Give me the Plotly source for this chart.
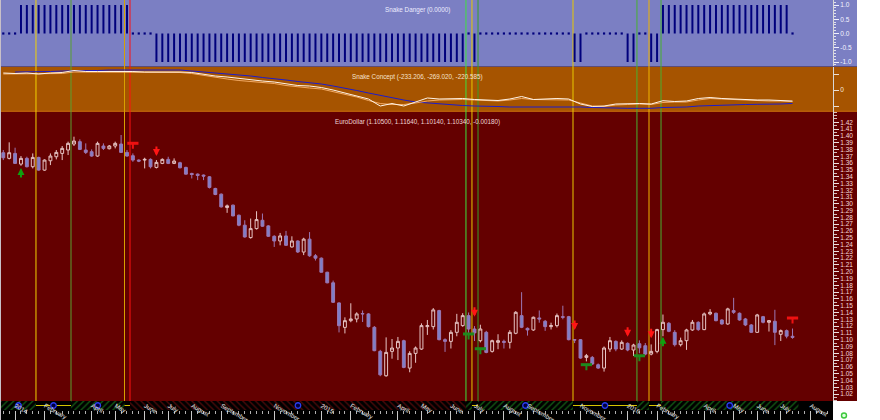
import pandas as pd
import plotly.graph_objects as go

# ============================ DATA ============================
first_week = "2013-12-20"
week_dates = pd.date_range(first_week, periods=135, freq="7D")

eur_open = [
    1.3752, 1.3669, 1.3742, 1.3585, 1.3669, 1.3546, 1.3683, 1.3496, 1.3634, 1.3693,
    1.3742, 1.3792, 1.3880, 1.3915, 1.3792, 1.3767, 1.3703, 1.3851, 1.3811, 1.3851,
    1.3880, 1.3757, 1.3708, 1.3644, 1.3644, 1.3654, 1.3536, 1.3595, 1.3654, 1.3595,
    1.3605, 1.3536, 1.3447, 1.3437, 1.3423, 1.3398, 1.3226, 1.3142, 1.2945, 1.2980,
    1.2832, 1.2685, 1.2503, 1.2635, 1.2758, 1.2675, 1.2522, 1.2453, 1.2527, 1.2365,
    1.2453, 1.2290, 1.2480, 1.2235, 1.2200, 1.1993, 1.1837, 1.1541, 1.1181, 1.1280,
    1.1305, 1.1385, 1.1379, 1.1182, 1.0828, 1.0469, 1.0828, 1.0877, 1.0985, 1.0582,
    1.0798, 1.0862, 1.1192, 1.1192, 1.1428, 1.1000, 1.0975, 1.1108, 1.1207, 1.1354,
    1.1157, 1.0985, 1.1108, 1.0828, 1.0961, 1.0975, 1.0961, 1.1094, 1.1354, 1.1167,
    1.1143, 1.1320, 1.1271, 1.1192, 1.1207, 1.1339, 1.1339, 1.1000, 1.1000, 1.0739,
    1.0739, 1.0631, 1.0582, 1.0862, 1.0975, 1.0862, 1.0946, 1.0848, 1.0940, 1.0911,
    1.0788, 1.0828, 1.1148, 1.1241, 1.1108, 1.0926, 1.0985, 1.1143, 1.1256, 1.1148,
    1.1379, 1.1389, 1.1290, 1.1231, 1.1428, 1.1389, 1.1305, 1.1217, 1.1108, 1.1339,
    1.1256, 1.1271, 1.1079, 1.1133, 1.1050]
eur_high = [
    1.3792, 1.3905, 1.3826, 1.3703, 1.3693, 1.3742, 1.3693, 1.3654, 1.3742, 1.3792,
    1.3851, 1.3915, 1.3988, 1.3949, 1.3890, 1.3801, 1.3915, 1.3890, 1.3865, 1.3915,
    1.4013, 1.3792, 1.3742, 1.3654, 1.3678, 1.3669, 1.3644, 1.3669, 1.3693, 1.3669,
    1.3619, 1.3546, 1.3457, 1.3447, 1.3432, 1.3408, 1.3236, 1.3152, 1.2990, 1.2990,
    1.2842, 1.2758, 1.2783, 1.2891, 1.2857, 1.2685, 1.2537, 1.2571, 1.2601, 1.2522,
    1.2463, 1.2500, 1.2584, 1.2260, 1.2210, 1.2000, 1.1870, 1.1550, 1.1329, 1.1536,
    1.1403, 1.1430, 1.1390, 1.1200, 1.0850, 1.1034, 1.1010, 1.1040, 1.1000, 1.0830,
    1.0900, 1.1240, 1.1290, 1.1465, 1.1440, 1.1020, 1.1140, 1.1380, 1.1390, 1.1400,
    1.1200, 1.1220, 1.1130, 1.1000, 1.1080, 1.1000, 1.1140, 1.1420, 1.1699, 1.1180,
    1.1340, 1.1430, 1.1290, 1.1250, 1.1385, 1.1500, 1.1350, 1.1010, 1.1010, 1.0790,
    1.0760, 1.0650, 1.0900, 1.1040, 1.0990, 1.0990, 1.0960, 1.0940, 1.0990, 1.0950,
    1.0930, 1.1160, 1.1370, 1.1260, 1.1140, 1.1030, 1.1160, 1.1290, 1.1270, 1.1400,
    1.1450, 1.1400, 1.1300, 1.1470, 1.1616, 1.1400, 1.1320, 1.1230, 1.1380, 1.1350,
    1.1290, 1.1440, 1.1150, 1.1150, 1.1164]
eur_low = [
    1.3644, 1.3654, 1.3595, 1.3560, 1.3536, 1.3521, 1.3487, 1.3487, 1.3570, 1.3654,
    1.3644, 1.3718, 1.3851, 1.3792, 1.3733, 1.3693, 1.3693, 1.3792, 1.3801, 1.3816,
    1.3752, 1.3693, 1.3619, 1.3614, 1.3521, 1.3521, 1.3521, 1.3585, 1.3585, 1.3585,
    1.3521, 1.3432, 1.3373, 1.3349, 1.3349, 1.3226, 1.3127, 1.2945, 1.2867, 1.2817,
    1.2670, 1.2503, 1.2488, 1.2621, 1.2660, 1.2512, 1.2365, 1.2389, 1.2380, 1.2355,
    1.2276, 1.2245, 1.2220, 1.2165, 1.1990, 1.1830, 1.1540, 1.1107, 1.1092, 1.1257,
    1.1255, 1.1260, 1.1180, 1.0830, 1.0462, 1.0455, 1.0720, 1.0700, 1.0580, 1.0520,
    1.0660, 1.0850, 1.1070, 1.1150, 1.0990, 1.0820, 1.0870, 1.1050, 1.1190, 1.1100,
    1.0980, 1.0960, 1.0800, 1.0810, 1.0860, 1.0870, 1.0870, 1.1080, 1.1170, 1.1060,
    1.1130, 1.1250, 1.1130, 1.1150, 1.1180, 1.1300, 1.0990, 1.0950, 1.0720, 1.0680,
    1.0630, 1.0570, 1.0530, 1.0820, 1.0830, 1.0850, 1.0830, 1.0760, 1.0800, 1.0770,
    1.0770, 1.0800, 1.1050, 1.1110, 1.0900, 1.0900, 1.0850, 1.1130, 1.1130, 1.1140,
    1.1360, 1.1270, 1.1220, 1.1220, 1.1380, 1.1280, 1.1200, 1.1100, 1.1100, 1.1240,
    1.1120, 1.0920, 1.0980, 1.1020, 1.1014]
eur_close = [
    1.3678, 1.3752, 1.3595, 1.3669, 1.3546, 1.3683, 1.3496, 1.3644, 1.3703, 1.3757,
    1.3816, 1.3890, 1.3924, 1.3801, 1.3757, 1.3703, 1.3890, 1.3816, 1.3851, 1.3890,
    1.3757, 1.3703, 1.3644, 1.3629, 1.3654, 1.3546, 1.3610, 1.3654, 1.3595, 1.3629,
    1.3531, 1.3437, 1.3432, 1.3418, 1.3408, 1.3241, 1.3137, 1.2955, 1.2970, 1.2822,
    1.2685, 1.2512, 1.2635, 1.2768, 1.2670, 1.2522, 1.2453, 1.2527, 1.2389, 1.2453,
    1.2291, 1.2480, 1.2235, 1.2200, 1.1993, 1.1837, 1.1550, 1.1206, 1.1280, 1.1305,
    1.1379, 1.1380, 1.1192, 1.0838, 1.0483, 1.0813, 1.0877, 1.0975, 1.0592, 1.0798,
    1.0877, 1.1207, 1.1207, 1.1438, 1.1000, 1.0975, 1.1108, 1.1256, 1.1354, 1.1157,
    1.1100, 1.1157, 1.0813, 1.0985, 1.0985, 1.0961, 1.1108, 1.1403, 1.1182, 1.1143,
    1.1330, 1.1305, 1.1192, 1.1207, 1.1354, 1.1330, 1.1000, 1.0995, 1.0729, 1.0764,
    1.0641, 1.0582, 1.0877, 1.0985, 1.0862, 1.0961, 1.0848, 1.0921, 1.0880, 1.0788,
    1.0828, 1.1148, 1.1256, 1.1123, 1.0926, 1.0985, 1.1143, 1.1256, 1.1148, 1.1379,
    1.1403, 1.1280, 1.1231, 1.1453, 1.1403, 1.1290, 1.1217, 1.1108, 1.1364, 1.1256,
    1.1280, 1.1108, 1.1133, 1.1052, 1.1034]

snake_danger = [
    0, 0, 0, 1, 1, 1, 1, 1, 1, 1,
    1, 1, 1, 1, 1, 1, 1, 1, 1, 1,
    1, 1, 0, 0, 0, 0, -1, -1, -1, -1,
    -1, -1, -1, -1, -1, -1, -1, -1, -1, -1,
    -1, -1, -1, -1, -1, -1, -1, -1, -1, -1,
    -1, -1, -1, -1, -1, -1, -1, -1, -1, -1,
    -1, -1, -1, -1, -1, -1, -1, -1, -1, -1,
    -1, -1, -1, -1, -1, -1, -1, -1, -1, 0,
    -1, 0, 0, 0, 0, 0, 0, 0, 0, 0,
    0, 0, 0, 0, 0, 0, 0, -1, -1, 0,
    0, 0, 0, 0, 0, 0, -1, -1, 0, 0,
    -1, -1, 1, 1, 1, 1, 1, 1, 1, 1,
    1, 1, 1, 1, 1, 1, 1, 1, 1, 1,
    1, 1, 1, 1, 0]

# Snake Concept lines, sampled every second week (index 0, 2, 4, ...)
concept_main = [
    320, 320, 330, 320, 330, 330, 360, 360, 360, 360,
    360, 360, 350, 350, 350, 350, 330, 290, 250, 220,
    190, 170, 150, 130, 90, 60, 40, 20, -30, -80,
    -140, -210, -270, -290, -290, -260, -220, -200, -190, -190,
    -200, -210, -220, -200, -170, -190, -190, -190, -200, -260,
    -320, -330, -300, -290, -280, -290, -250, -240, -240, -200,
    -170, -180, -190, -210, -220, -220, -220, -233.206]
concept_slow = [  # starts at week index 2
    360, 360, 370, 370, 380, 380, 390, 390, 400, 400,
    400, 400, 400, 400, 400, 380, 360, 350, 320, 300,
    280, 250, 230, 200, 170, 150, 120, 80, 40, -10,
    -60, -110, -160, -200, -240, -260, -280, -300, -310, -320,
    -320, -330, -340, -340, -340, -340, -330, -330, -340, -350,
    -360, -366, -366, -366, -366, -350, -346, -340, -320, -310,
    -306, -300, -290, -286, -286, -280, -269.020]
concept_fast = [
    340, 330, 340, 320, 340, 350, 390, 370, 370, 370,
    380, 370, 360, 360, 370, 360, 350, 310, 280, 260,
    230, 200, 180, 160, 120, 90, 80, 50, 0, -60,
    -120, -180, -320, -270, -320, -240, -160, -180, -180, -170,
    -190, -200, -210, -180, -130, -190, -180, -170, -180, -280,
    -330, -320, -280, -270, -270, -280, -214, -230, -220, -170,
    -150, -170, -180, -200, -200, -200, -210, -220.585]

# signals on the price panel (week index, price)
up_arrow_week = [3, 112]
up_arrow_price = [1.3527, 1.1044]
down_arrow_week = [26, 80, 97, 106, 110]
down_arrow_price = [1.3704, 1.1338, 1.1142, 1.1044, 1.1020]
exit_flag_week = [22, 134]
exit_flag_price = [1.3891, 1.1319]
entry_flag_week = [79, 81, 99, 108]
entry_flag_price = [1.1084, 1.0867, 1.0632, 1.0763]

# state changes (vertical lines + bottom state strip)
initial_state = "green"
event_dates = ["2014-01-27 20:00", "2014-03-10 11:00", "2014-05-13 01:00", "2014-05-19 14:00",
               "2015-06-22 21:00", "2015-06-30 00:00", "2015-07-07 05:00", "2015-10-28 02:00",
               "2016-01-12 02:00", "2016-01-26 10:00", "2016-02-09 17:00"]
event_states = ["yellow", "green", "yellow", "red", "green", "yellow", "green", "yellow",
                "green", "yellow", "green"]

month_tick_dates = ["2014-01-03", "2014-02-07", "2014-04-04", "2014-05-02", "2014-06-06",
                    "2014-07-04", "2014-08-01", "2014-09-05", "2014-11-07", "2015-01-02",
                    "2015-02-06", "2015-04-03", "2015-05-01", "2015-06-05", "2015-07-03",
                    "2015-08-07", "2015-09-04", "2015-11-06", "2016-01-01", "2016-02-05",
                    "2016-04-01", "2016-05-06", "2016-06-03", "2016-07-01", "2016-08-05"]
month_tick_labels = ["2014", "February", "April", "May", "June", "July", "August", "September",
                     "November", "2015", "February", "April", "May", "June", "July", "August",
                     "September", "November", "2016", "February", "April", "May", "June", "July",
                     "August"]
price_tick_labels = ["1.02", "1.03", "1.04", "1.05", "1.06", "1.07", "1.08", "1.09", "1.10",
                     "1.11", "1.12", "1.13", "1.14", "1.15", "1.16", "1.17", "1.18", "1.19",
                     "1.20", "1.21", "1.22", "1.23", "1.24", "1.25", "1.26", "1.27", "1.28",
                     "1.29", "1.30", "1.31", "1.32", "1.33", "1.34", "1.35", "1.36", "1.37",
                     "1.38", "1.39", "1.40", "1.41", "1.42"]
danger_tick_labels = ["1.0", "0.5", "0.0", "-0.5", "-1.0"]

# ============================ LAYOUT HELPERS ============================
W, H = 880, 420
PLOT_L, PLOT_R, AXIS_R = 1, 833, 857
FIRST_BAR_PX = 3.3
PX_PER_DAY = 0.8414
FONT = "Liberation Sans"


def fy(px):
    return 1 - px / H


def fx(px):
    return px / W


x_start = week_dates[0] - pd.Timedelta(days=(FIRST_BAR_PX - PLOT_L) / PX_PER_DAY)
x_end = x_start + pd.Timedelta(days=(PLOT_R - PLOT_L) / PX_PER_DAY)
DAY_MS = 86400000.0

fig = go.Figure()

# ---- Snake Danger bars (top panel)
nz = [(d, v) for d, v in zip(week_dates, snake_danger) if v != 0]
zz = [d for d, v in zip(week_dates, snake_danger) if v == 0]
fig.add_trace(go.Bar(x=[d for d, _ in nz], y=[v for _, v in nz], base=0,
                     width=2.0 / PX_PER_DAY * DAY_MS, yaxis="y",
                     marker=dict(color="#00007c", line=dict(width=0))))
fig.add_trace(go.Scatter(x=zz, y=[0] * len(zz), mode="markers", yaxis="y",
                         marker=dict(symbol="square", size=2.2, color="#00007c",
                                     line=dict(width=0))))

# ---- Snake Concept lines (middle panel)
fig.add_trace(go.Scatter(x=week_dates[2::2], y=concept_slow, mode="lines", yaxis="y2",
                         line=dict(color="#1c1ccc", width=1)))
fig.add_trace(go.Scatter(x=week_dates[0::2], y=concept_main, mode="lines", yaxis="y2",
                         line=dict(color="#f2aa64", width=1)))
fig.add_trace(go.Scatter(x=week_dates[0::2], y=concept_fast, mode="lines", yaxis="y2",
                         line=dict(color="#fff4e8", width=1)))

# ---- EuroDollar candles (main panel)
fig.add_trace(go.Candlestick(
    x=week_dates, open=eur_open, high=eur_high, low=eur_low, close=eur_close, yaxis="y3",
    whiskerwidth=0,
    increasing=dict(line=dict(color="#e6c4c4", width=1), fillcolor="rgba(0,0,0,0)"),
    decreasing=dict(line=dict(color="#9c78b4", width=1), fillcolor="#7c80c8")))

# flag markers (bar part)
fig.add_trace(go.Scatter(x=[week_dates[i] for i in exit_flag_week], y=exit_flag_price,
                         mode="markers", yaxis="y3",
                         marker=dict(symbol="line-ew", size=8, line=dict(width=3, color="#ee1111"))))
fig.add_trace(go.Scatter(x=[week_dates[i] for i in entry_flag_week], y=entry_flag_price,
                         mode="markers", yaxis="y3",
                         marker=dict(symbol="line-ew", size=8, line=dict(width=3, color="#1e8a1e"))))

annotations = []
for i, p in zip(up_arrow_week, up_arrow_price):
    annotations.append(dict(x=week_dates[i], y=p, xref="x", yref="y3", text="", showarrow=True,
                            ax=0, ay=11, arrowhead=2, arrowsize=0.7, arrowwidth=2,
                            arrowcolor="#10a010", standoff=0))
for i, p in zip(down_arrow_week, down_arrow_price):
    annotations.append(dict(x=week_dates[i], y=p, xref="x", yref="y3", text="", showarrow=True,
                            ax=0, ay=-11, arrowhead=2, arrowsize=0.7, arrowwidth=2,
                            arrowcolor="#ff1515", standoff=0))
for weeks, prices, col in ((exit_flag_week, exit_flag_price, "#ee1111"),
                           (entry_flag_week, entry_flag_price, "#1e8a1e")):
    for i, p in zip(weeks, prices):
        annotations.append(dict(x=week_dates[i], y=p, xref="x", yref="y3", text="",
                                showarrow=True, ax=0, ay=7, arrowhead=0, arrowwidth=2,
                                arrowcolor=col, standoff=0))

# ---- state strip
bounds = [x_start] + [pd.Timestamp(d) for d in event_dates] + [week_dates[-1] + pd.Timedelta(days=7)]
states = [initial_state] + event_states
segments = list(zip(bounds[:-1], bounds[1:], states))

for state, shape, fg in (("green", "/", "#27b327"), ("red", "\\", "#9a1414")):
    segs = [s for s in segments if s[2] == state]
    fig.add_trace(go.Bar(
        x=[s[0] for s in segs], y=[1] * len(segs), base=0, offset=0,
        width=[(s[1] - s[0]).total_seconds() * 1000 for s in segs], yaxis="y4",
        marker=dict(color="#000000", line=dict(width=0),
                    pattern=dict(shape=shape, fgcolor=fg, bgcolor="#000000", size=4.5,
                                 solidity=0.3))))
yx, yy = [], []
for s in segments:
    if s[2] == "yellow":
        yx += [s[0], s[1], None]
        yy += [0.5, 0.5, None]
fig.add_trace(go.Scatter(x=yx, y=yy, mode="lines", yaxis="y4",
                         line=dict(color="#d6c400", width=1)))
mids = [s[0] + (s[1] - s[0]) / 2 for s in segments if (s[1] - s[0]).days > 14]
fig.add_trace(go.Scatter(x=mids, y=[0.5] * len(mids), mode="markers", yaxis="y4",
                         marker=dict(symbol="circle", size=5.5, color="#000040",
                                     line=dict(color="#2a3cf0", width=1.3))))

# ---- titles (computed from the data)
chg = eur_close[-1] - eur_close[-2]
annotations += [
    dict(x=fx((PLOT_L + PLOT_R) / 2), y=fy(4.5), xref="paper", yref="paper", showarrow=False,
         text=f"Snake Danger ({snake_danger[-1]:.4f})",
         font=dict(family=FONT, size=6.3, color="#ececff")),
    dict(x=fx((PLOT_L + PLOT_R) / 2), y=fy(71), xref="paper", yref="paper", showarrow=False,
         text=f"Snake Concept ({concept_main[-1]:.3f}, {concept_slow[-1]:.3f}, {concept_fast[-1]:.3f})",
         font=dict(family=FONT, size=6.3, color="#f6e2cc")),
    dict(x=fx((PLOT_L + PLOT_R) / 2), y=fy(116), xref="paper", yref="paper", showarrow=False,
         text=(f"EuroDollar ({eur_open[-1]:.5f}, {eur_high[-1]:.5f}, {eur_low[-1]:.5f}, "
               f"{eur_close[-1]:.5f}, {chg:.5f})"),
         font=dict(family=FONT, size=6.3, color="#f0d4d4")),
]

# ---- backgrounds & event lines
shapes = [
    dict(type="rect", xref="paper", yref="paper", x0=fx(PLOT_L), x1=fx(AXIS_R), y0=fy(66), y1=fy(0),
         fillcolor="#7b7fc3", line=dict(width=0), layer="below"),
    dict(type="rect", xref="paper", yref="paper", x0=fx(PLOT_L), x1=fx(AXIS_R), y0=fy(112), y1=fy(66),
         fillcolor="#a65400", line=dict(width=0), layer="below"),
    dict(type="rect", xref="paper", yref="paper", x0=fx(PLOT_L), x1=fx(AXIS_R), y0=fy(67), y1=fy(66),
         fillcolor="#5c4c78", line=dict(width=0), layer="below"),
    dict(type="rect", xref="paper", yref="paper", x0=fx(PLOT_L), x1=fx(AXIS_R), y0=fy(401), y1=fy(112),
         fillcolor="#640000", line=dict(width=0), layer="below"),
    dict(type="rect", xref="paper", yref="paper", x0=fx(PLOT_L), x1=fx(AXIS_R), y0=fy(112), y1=fy(110.5),
         fillcolor="#b85c08", line=dict(width=0), layer="below"),
    dict(type="rect", xref="paper", yref="paper", x0=fx(PLOT_L), x1=fx(PLOT_R), y0=fy(420), y1=fy(401),
         fillcolor="#000000", line=dict(width=0), layer="below"),
    dict(type="rect", xref="paper", yref="paper", x0=0, x1=fx(PLOT_L), y0=fy(420), y1=fy(0),
         fillcolor="#c8c0c8", line=dict(width=0), layer="below"),
    dict(type="circle", xref="paper", yref="paper", x0=fx(841.5), x1=fx(846.5), y0=fy(418), y1=fy(413),
         fillcolor="#e0ffe0", line=dict(color="#3cc83c", width=1.4), layer="above"),
]
event_line_colors = ["#f2d200", "#58a030", "#d8a000", "#ff1010", "#3ee03e", "#e8c800",
                     "#38a028", "#e8c800", "#48b030", "#f0b400", "#48b030"]
for d, c in zip(event_dates, event_line_colors):
    shapes.append(dict(type="line", xref="x", yref="paper", x0=d, x1=d, y0=fy(401), y1=fy(0),
                       line=dict(color=c, width=1), layer="below"))

yax_common = dict(anchor="x", side="right", showgrid=False, zeroline=False, showline=True,
                  linecolor="#d8d8d8", linewidth=1, ticks="outside", tickwidth=1,
                  fixedrange=True, automargin=False)

fig.update_layout(
    width=W, height=H, margin=dict(l=0, r=0, t=0, b=0, pad=0, autoexpand=False),
    paper_bgcolor="#ffffff", plot_bgcolor="rgba(0,0,0,0)",
    showlegend=False, hovermode=False, barmode="overlay", boxgap=0.3,
    font=dict(family=FONT, size=6.5, color="#ffffff"),
    xaxis=dict(domain=[fx(PLOT_L), fx(PLOT_R)], range=[x_start, x_end], anchor="y4", type="date",
               automargin=False,
               tickmode="array", tickvals=month_tick_dates, ticktext=month_tick_labels,
               ticks="outside", ticklen=9, tickwidth=1, tickcolor="#c8c8c8",
               ticklabelposition="outside right", ticklabelstandoff=-11,
               tickfont=dict(family=FONT, size=6.2, color="#ececec"),
               showgrid=False, zeroline=False, showline=False, fixedrange=True,
               rangeslider=dict(visible=False),
               minor=dict(ticks="outside", ticklen=3, tickcolor="#b0b0b0", tickmode="linear",
                          tick0=week_dates[0], dtick=7 * DAY_MS, showgrid=False)),
    yaxis=dict(domain=[fy(66), fy(0)], range=[-1 - 4 * 2 / 57, 1 + 5 * 2 / 57],
               tickmode="array", tickvals=[float(t) for t in danger_tick_labels],
               ticktext=danger_tick_labels, ticklen=5, tickcolor="#f0f0ff",
               tickfont=dict(family=FONT, size=6.5, color="#f4f4ff"),
               minor=dict(ticks="outside", ticklen=2, tickcolor="#e0e0f0", tickmode="linear",
                          tick0=0, dtick=0.1), **yax_common),
    yaxis2=dict(domain=[fy(112), fy(67)], range=[-440, 460], tickmode="array",
                tickvals=[-320, 0, 320], ticktext=["", "0", ""], ticklen=5, tickcolor="#f0e0d0",
                tickfont=dict(family=FONT, size=6.5, color="#f8eadc"), **yax_common),
    yaxis3=dict(domain=[fy(401), fy(112)],
                range=[1.42 - (401 - 122.3) / 679.3, 1.42 + (122.3 - 112) / 679.3],
                tickmode="array", tickvals=[float(t) for t in price_tick_labels],
                ticktext=price_tick_labels, ticklen=5, tickcolor="#f0e0e0",
                tickfont=dict(family=FONT, size=6.5, color="#f4d8d8"),
                minor=dict(ticks="outside", ticklen=2.5, tickcolor="#d8c0c0", tickmode="linear",
                           tick0=1.0, dtick=0.005), **yax_common),
    yaxis4=dict(domain=[fy(410), fy(401)], range=[0, 1], anchor="x", visible=False,
                fixedrange=True, automargin=False),
    shapes=shapes, annotations=annotations,
)

fig.write_html("out.html", config={"displayModeBar": False},
               post_script="document.body.style.margin='0';document.body.style.padding='0';")
